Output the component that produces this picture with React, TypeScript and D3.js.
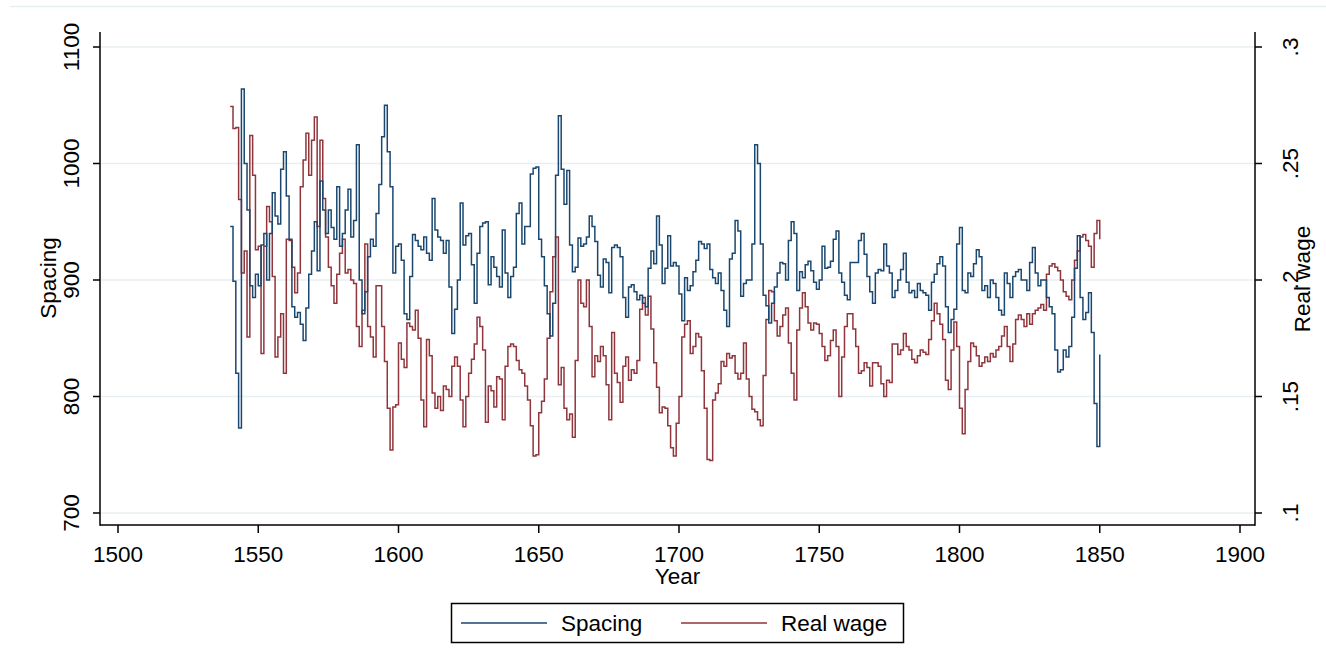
import { useEffect, useRef } from "react";
import * as d3 from "d3";

// annual series, 1540..1850
const startYear = 1540;

const spacing = [
  946, 899, 820, 773, 1064, 1000, 960, 895, 885, 905,
  895, 930, 940, 900, 940, 975, 955, 948, 995, 1010,
  972, 935, 877, 868, 872, 862, 848, 876, 905, 925,
  950, 908, 985, 960, 940, 960, 945, 935, 980, 929,
  940, 960, 978, 937, 951, 1016, 900, 871, 890, 920,
  935, 929, 957, 982, 1023, 1050, 1010, 980, 906, 929,
  931, 917, 871, 866, 903, 939, 934, 929, 926, 937,
  923, 917, 970, 943, 937, 934, 923, 934, 894, 854,
  875, 900, 966, 930, 938, 940, 913, 880, 923, 946,
  949, 950, 896, 920, 911, 903, 894, 943, 906, 885,
  903, 911, 957, 966, 931, 946, 946, 991, 996, 997,
  935, 920, 895, 871, 852, 880, 990, 1041, 995, 965,
  994, 930, 907, 911, 936, 929, 931, 937, 955, 946,
  933, 904, 894, 918, 915, 889, 928, 930, 928, 920,
  885, 868, 894, 896, 890, 883, 887, 880, 877, 910,
  925, 914, 955, 930, 897, 910, 938, 912, 915, 912,
  888, 865, 902, 891, 895, 907, 917, 933, 931, 927,
  931, 909, 902, 897, 906, 891, 874, 860, 918, 923,
  951, 942, 886, 897, 900, 900, 931, 1016, 1000, 931,
  887, 878, 863, 880, 894, 906, 915, 914, 900, 934,
  950, 940, 891, 907, 902, 913, 916, 908, 898, 892,
  900, 929, 910, 911, 916, 935, 942, 906, 898, 887,
  883, 915, 915, 915, 934, 940, 922, 903, 890, 880,
  906, 909, 908, 931, 912, 906, 885, 891, 900, 909,
  923, 898, 889, 891, 885, 897, 891, 889, 887, 874,
  898, 905, 914, 920, 912, 877, 855, 866, 875, 931,
  945, 891, 889, 906, 903, 914, 926, 920, 891, 895,
  885, 900, 897, 885, 874, 870, 906, 897, 885, 903,
  907, 909, 900, 900, 891, 915, 928, 906, 895, 900,
  900, 885, 877, 871, 840, 821, 823, 840, 834, 843,
  868, 910, 938, 885, 866, 872, 889, 855, 794, 757,
  836,
];

const realWage = [
  0.2745, 0.265, 0.2655, 0.2345, 0.203, 0.2125, 0.1755, 0.262, 0.245, 0.213,
  0.2145, 0.1685, 0.2145, 0.2315, 0.225, 0.2015, 0.167, 0.1755, 0.1855, 0.16,
  0.2175, 0.217, 0.2055, 0.1945, 0.203, 0.24, 0.2515, 0.263, 0.245, 0.26,
  0.27, 0.223, 0.26, 0.235, 0.2185, 0.2055, 0.1975, 0.19, 0.2025, 0.2115,
  0.2175, 0.203, 0.2045, 0.2, 0.1985, 0.18, 0.1715, 0.187, 0.2155, 0.18,
  0.1755, 0.167, 0.1975, 0.1975, 0.18, 0.165, 0.145, 0.127, 0.1455, 0.1465,
  0.173, 0.166, 0.1625, 0.1815, 0.18, 0.1785, 0.187, 0.175, 0.1485, 0.137,
  0.1745, 0.1675, 0.1515, 0.145, 0.15, 0.144, 0.1545, 0.153, 0.15, 0.163,
  0.167, 0.163, 0.1485, 0.137, 0.15, 0.16, 0.166, 0.1725, 0.184, 0.18,
  0.17, 0.139, 0.1545, 0.1525, 0.1455, 0.1585, 0.1575, 0.14, 0.163, 0.1715,
  0.1725, 0.1715, 0.1655, 0.1615, 0.16, 0.1545, 0.1485, 0.1375, 0.1245, 0.125,
  0.143, 0.148, 0.1575, 0.175, 0.195, 0.21, 0.2185, 0.155, 0.1625, 0.145,
  0.14, 0.1425, 0.1325, 0.1655, 0.2, 0.19, 0.1885, 0.2, 0.18, 0.1585,
  0.1675, 0.165, 0.1715, 0.1675, 0.155, 0.14, 0.1775, 0.16, 0.156, 0.1475,
  0.163, 0.167, 0.157, 0.1615, 0.16, 0.1655, 0.1875, 0.1925, 0.185, 0.193,
  0.179, 0.1645, 0.154, 0.143, 0.1455, 0.145, 0.1375, 0.128, 0.1245, 0.1385,
  0.15, 0.1755, 0.181, 0.1825, 0.1685, 0.1715, 0.177, 0.1755, 0.161, 0.145,
  0.123, 0.1225, 0.1485, 0.1515, 0.1555, 0.165, 0.163, 0.1685, 0.1665, 0.1675,
  0.16, 0.1575, 0.16, 0.173, 0.1575, 0.15, 0.1445, 0.1435, 0.14, 0.1375,
  0.159, 0.183, 0.1955, 0.195, 0.1825, 0.176, 0.18, 0.185, 0.188, 0.173,
  0.16, 0.1485, 0.1785, 0.188, 0.1945, 0.1885, 0.1815, 0.1785, 0.1815, 0.181,
  0.177, 0.1715, 0.1655, 0.1675, 0.174, 0.1785, 0.1715, 0.15, 0.167, 0.18,
  0.1855, 0.1855, 0.179, 0.1715, 0.16, 0.161, 0.1645, 0.1625, 0.1545, 0.1645,
  0.1645, 0.163, 0.1555, 0.15, 0.157, 0.156, 0.1725, 0.1725, 0.168, 0.17,
  0.177, 0.1715, 0.17, 0.166, 0.1645, 0.1675, 0.17, 0.169, 0.168, 0.1745,
  0.1825, 0.19, 0.1855, 0.181, 0.1745, 0.157, 0.153, 0.17, 0.182, 0.1715,
  0.145, 0.134, 0.153, 0.165, 0.173, 0.1715, 0.1675, 0.163, 0.1645, 0.167,
  0.165, 0.1685, 0.167, 0.17, 0.1715, 0.176, 0.18, 0.1715, 0.165, 0.1725,
  0.183, 0.185, 0.183, 0.18, 0.1855, 0.181, 0.1855, 0.187, 0.188, 0.1895,
  0.187, 0.2025, 0.206, 0.207, 0.2055, 0.204, 0.2, 0.195, 0.193, 0.1915,
  0.2, 0.2085, 0.2125, 0.2185, 0.2195, 0.217, 0.2145, 0.2055, 0.22, 0.2255,
  0.2175,
];

const yearTicks = [1500, 1550, 1600, 1650, 1700, 1750, 1800, 1850, 1900];
const spacingTicks = [700, 800, 900, 1000, 1100];
const wageTicks = [0.1, 0.15, 0.2, 0.25, 0.3];
const wageTickLabels = [".1", ".15", ".2", ".25", ".3"];
const seriesNames = ["Spacing", "Real wage"];

const BLUE = "#1a476f";
const RED = "#90353b";
const GRID = "#e8eff2";
const FONT = "'Liberation Sans', Arial, sans-serif";

export default function App() {
  const svgRef = useRef<SVGSVGElement>(null);

  useEffect(() => {
    const w = 1326;
    const h = 672;
    const svg = d3.select(svgRef.current).attr("width", w).attr("height", h);
    svg.selectAll("*").remove();

    //scales
    const x = d3.scaleLinear().domain([1500, 1900]).range([118, 1240]);
    const yL = d3.scaleLinear().domain([700, 1100]).range([513, 47]);
    const yR = d3.scaleLinear().domain([0.1, 0.3]).range([513, 47]);

    const left = 100;
    const right = 1255;
    const top = 32;
    const bottom = 525;

    // faint outer border line at the top
    svg
      .append("line")
      .attr("x1", 10)
      .attr("x2", w)
      .attr("y1", 6.5)
      .attr("y2", 6.5)
      .attr("stroke", GRID)
      .attr("stroke-width", 1.5);

    //grid
    svg
      .append("g")
      .selectAll("line")
      .data(spacingTicks)
      .join("line")
      .attr("x1", left + 1)
      .attr("x2", right - 1)
      .attr("y1", (d) => yL(d))
      .attr("y2", (d) => yL(d))
      .attr("stroke", GRID)
      .attr("stroke-width", 1.5);

    //series (stairstep, like Stata's connect(J))
    const spacingLine = d3
      .line<number>()
      .x((_, i) => x(startYear + i))
      .y((d) => yL(d))
      .curve(d3.curveStepAfter);
    const wageLine = d3
      .line<number>()
      .x((_, i) => x(startYear + i))
      .y((d) => yR(d))
      .curve(d3.curveStepAfter);

    svg
      .append("path")
      .datum(realWage)
      .attr("d", wageLine)
      .attr("fill", "none")
      .attr("stroke", RED)
      .attr("stroke-width", 1.5);
    svg
      .append("path")
      .datum(spacing)
      .attr("d", spacingLine)
      .attr("fill", "none")
      .attr("stroke", BLUE)
      .attr("stroke-width", 1.5);

    //axes lines
    const axisColor = "#000";
    svg.append("line").attr("x1", left).attr("x2", left).attr("y1", top).attr("y2", bottom + 0.75)
      .attr("stroke", axisColor).attr("stroke-width", 1.5);
    svg.append("line").attr("x1", right).attr("x2", right).attr("y1", top).attr("y2", bottom + 0.75)
      .attr("stroke", axisColor).attr("stroke-width", 1.5);
    svg.append("line").attr("x1", left).attr("x2", right).attr("y1", bottom).attr("y2", bottom)
      .attr("stroke", axisColor).attr("stroke-width", 1.5);

    const text = (g: d3.Selection<any, any, any, any>) =>
      g.attr("font-family", FONT).attr("font-size", 22.5).attr("fill", "#000");

    // left axis
    const gl = svg.append("g");
    gl.selectAll("line")
      .data(spacingTicks)
      .join("line")
      .attr("x1", left - 7)
      .attr("x2", left)
      .attr("y1", (d) => yL(d))
      .attr("y2", (d) => yL(d))
      .attr("stroke", axisColor)
      .attr("stroke-width", 1.5);
    gl.selectAll("text")
      .data(spacingTicks)
      .join("text")
      .attr("transform", (d) => `translate(79, ${yL(d)}) rotate(-90)`)
      .attr("text-anchor", "middle")
      .text((d) => d)
      .call(text);
    svg
      .append("text")
      .attr("transform", `translate(56, 278) rotate(-90)`)
      .attr("text-anchor", "middle")
      .text(seriesNames[0])
      .call(text);

    // right axis
    const gr = svg.append("g");
    gr.selectAll("line")
      .data(wageTicks)
      .join("line")
      .attr("x1", right)
      .attr("x2", right + 7)
      .attr("y1", (d) => yR(d))
      .attr("y2", (d) => yR(d))
      .attr("stroke", axisColor)
      .attr("stroke-width", 1.5);
    gr.selectAll("text")
      .data(wageTicks)
      .join("text")
      .attr("transform", (d) => `translate(1298, ${yR(d)}) rotate(-90)`)
      .attr("text-anchor", "middle")
      .text((_, i) => wageTickLabels[i])
      .call(text);
    svg
      .append("text")
      .attr("transform", `translate(1310, 279) rotate(-90)`)
      .attr("text-anchor", "middle")
      .text(seriesNames[1])
      .call(text);

    // bottom axis
    const gb = svg.append("g");
    gb.selectAll("line")
      .data(yearTicks)
      .join("line")
      .attr("x1", (d) => x(d))
      .attr("x2", (d) => x(d))
      .attr("y1", bottom)
      .attr("y2", bottom + 8)
      .attr("stroke", axisColor)
      .attr("stroke-width", 1.5);
    gb.selectAll("text")
      .data(yearTicks)
      .join("text")
      .attr("x", (d) => x(d))
      .attr("y", 562)
      .attr("text-anchor", "middle")
      .text((d) => d)
      .call(text);
    svg
      .append("text")
      .attr("x", (left + right) / 2)
      .attr("y", 584)
      .attr("text-anchor", "middle")
      .text("Year")
      .call(text);

    //legend
    const lg = svg.append("g");
    lg.append("rect")
      .attr("x", 451.5)
      .attr("y", 603.5)
      .attr("width", 452)
      .attr("height", 39)
      .attr("fill", "#fff")
      .attr("stroke", "#000")
      .attr("stroke-width", 1.5);
    const items = [
      { name: seriesNames[0], color: BLUE, x0: 461 },
      { name: seriesNames[1], color: RED, x0: 681 },
    ];
    items.forEach((it) => {
      lg.append("line")
        .attr("x1", it.x0)
        .attr("x2", it.x0 + 86)
        .attr("y1", 623)
        .attr("y2", 623)
        .attr("stroke", it.color)
        .attr("stroke-width", 1.3);
      lg.append("text")
        .attr("x", it.x0 + 100)
        .attr("y", 631)
        .text(it.name)
        .call(text);
    });
  }, []);

  return (
    <svg
      ref={svgRef}
      style={{ position: "absolute", left: 0, top: 0, background: "#fff" }}
    ></svg>
  );
}
